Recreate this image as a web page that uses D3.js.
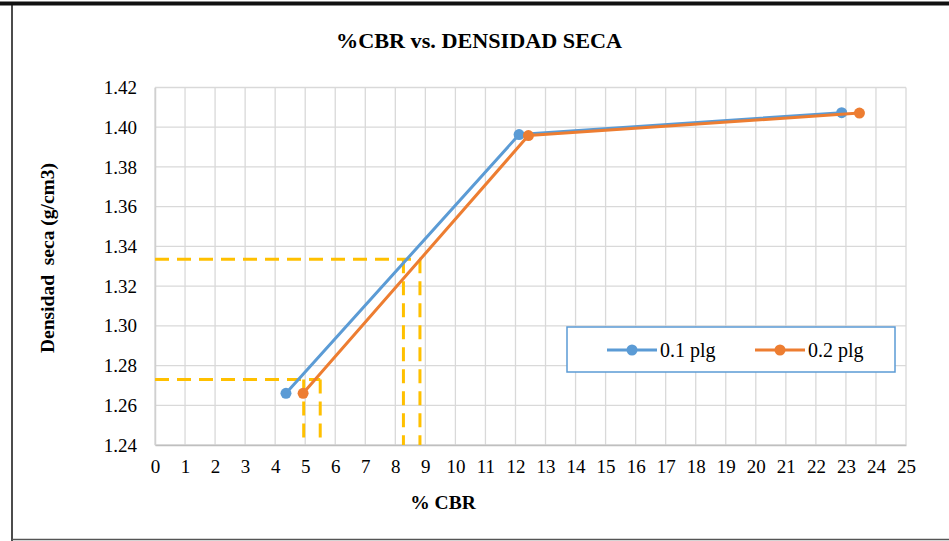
<!DOCTYPE html>
<html>
<head>
<meta charset="utf-8">
<script src="https://cdn.jsdelivr.net/npm/d3@7"></script>
<style>
  html, body { margin: 0; padding: 0; background: #fff; }
  svg { display: block; }
  text { font-family: "Liberation Serif", "Times New Roman", serif; fill: #000; }
</style>
</head>
<body>
<svg id="chart" width="949" height="541"></svg>
<script>
// ---- data ----
const seriesNames = ["0.1 plg", "0.2 plg"];
const cbr01 = [4.36, 12.12, 22.86];
const dens01 = [1.266, 1.3963, 1.4073];
const cbr02 = [4.93, 12.43, 23.45];
const dens02 = [1.266, 1.3958, 1.4071];
// guide lines (yellow dashed)
const guideDensity = [1.273, 1.3335];
const guideCbrLow = [4.95, 5.5];
const guideCbrHigh = [8.27, 8.82];
const xTicks = d3.range(0, 26, 1);
const yTicks = [1.24, 1.26, 1.28, 1.30, 1.32, 1.34, 1.36, 1.38, 1.40, 1.42];

const colors = ["#5b9bd5", "#ed7d31"];
const guideColor = "#ffc000";

const svg = d3.select("#chart");
const W = 949, H = 541;
const m = { left: 155, right: 906, top: 87.5, bottom: 445 };

const x = d3.scaleLinear().domain([0, 25]).range([m.left, m.right]);
const y = d3.scaleLinear().domain([1.24, 1.42]).range([m.bottom, m.top]);

// outer frame
svg.append("rect").attr("x", 0).attr("y", 0).attr("width", W).attr("height", H).attr("fill", "#fff");
svg.append("line").attr("x1", 0).attr("x2", W).attr("y1", 3.5).attr("y2", 3.5)
  .attr("stroke", "#111").attr("stroke-width", 4);
svg.append("line").attr("x1", 12).attr("x2", 12).attr("y1", 4).attr("y2", H)
  .attr("stroke", "#111").attr("stroke-width", 1.5);
svg.append("line").attr("x1", 12).attr("x2", W).attr("y1", 539.5).attr("y2", 539.5)
  .attr("stroke", "#555").attr("stroke-width", 1.5);

// gridlines
const grid = svg.append("g");
grid.selectAll("line.v").data(xTicks).enter().append("line")
  .attr("x1", d => x(d)).attr("x2", d => x(d))
  .attr("y1", m.top).attr("y2", m.bottom)
  .attr("stroke", "#d9d9d9").attr("stroke-width", 1.3);
grid.selectAll("line.h").data(yTicks).enter().append("line")
  .attr("x1", m.left).attr("x2", m.right)
  .attr("y1", d => y(d)).attr("y2", d => y(d))
  .attr("stroke", "#d9d9d9").attr("stroke-width", 1.3);

// axes (labels via d3 axes)
const xAxis = svg.append("g").attr("transform", `translate(0,${m.bottom})`)
  .call(d3.axisBottom(x).tickValues(xTicks).tickFormat(d3.format("d")).tickSize(0).tickPadding(15));
const yAxis = svg.append("g").attr("transform", `translate(${m.left},0)`)
  .call(d3.axisLeft(y).tickValues(yTicks).tickFormat(d3.format(".2f")).tickSize(0).tickPadding(18));
[xAxis, yAxis].forEach(a => {
  a.select(".domain").attr("stroke", "#bfbfbf").attr("stroke-width", 1.5);
  a.selectAll("text").attr("font-family", "Liberation Serif").attr("font-size", 19).attr("fill", "#000");
});
yAxis.select(".domain").attr("stroke", "#d0d0d0");

// yellow dashed guides
const gl = svg.append("g").attr("stroke", guideColor).attr("stroke-width", 3)
  .attr("stroke-dasharray", "14,8").attr("fill", "none");
gl.append("line").attr("x1", x(0)).attr("x2", x(guideCbrLow[1]))
  .attr("y1", y(guideDensity[0])).attr("y2", y(guideDensity[0]));
guideCbrLow.forEach(v => gl.append("line").attr("x1", x(v)).attr("x2", x(v))
  .attr("y1", y(guideDensity[0])).attr("y2", y(1.24)));
gl.append("line").attr("x1", x(0)).attr("x2", x(guideCbrHigh[1]))
  .attr("y1", y(guideDensity[1])).attr("y2", y(guideDensity[1]));
guideCbrHigh.forEach(v => gl.append("line").attr("x1", x(v)).attr("x2", x(v))
  .attr("y1", y(guideDensity[1])).attr("y2", y(1.24)));

// series
const series = [
  cbr01.map((c, i) => [c, dens01[i]]),
  cbr02.map((c, i) => [c, dens02[i]])
];
const line = d3.line().x(d => x(d[0])).y(d => y(d[1]));
series.forEach((s, i) => {
  svg.append("path").datum(s).attr("d", line).attr("fill", "none")
    .attr("stroke", colors[i]).attr("stroke-width", 3).attr("stroke-linejoin", "round");
  svg.selectAll(null).data(s).enter().append("circle")
    .attr("cx", d => x(d[0])).attr("cy", d => y(d[1])).attr("r", 5.5)
    .attr("fill", colors[i]);
});

// legend
const lg = svg.append("g");
lg.append("rect").attr("x", 567).attr("y", 327).attr("width", 328).attr("height", 45)
  .attr("fill", "#fff").attr("stroke", "#5b9bd5").attr("stroke-width", 1.5);
const legendItems = [
  { x0: 607, x1: 657, tx: 660 },
  { x0: 755, x1: 805, tx: 808 }
];
legendItems.forEach((it, i) => {
  lg.append("line").attr("x1", it.x0).attr("x2", it.x1).attr("y1", 350).attr("y2", 350)
    .attr("stroke", colors[i]).attr("stroke-width", 3);
  lg.append("circle").attr("cx", (it.x0 + it.x1) / 2).attr("cy", 350).attr("r", 5.5).attr("fill", colors[i]);
  lg.append("text").attr("x", it.tx).attr("y", 357).attr("font-size", 20).text(seriesNames[i]);
});

// titles
svg.append("text").attr("x", 479).attr("y", 48).attr("text-anchor", "middle")
  .attr("font-size", 22).attr("font-weight", "bold").attr("textLength", 286)
  .attr("lengthAdjust", "spacingAndGlyphs").text("%CBR vs. DENSIDAD SECA");
svg.append("text").attr("x", 443).attr("y", 509).attr("text-anchor", "middle")
  .attr("font-size", 19.5).attr("font-weight", "bold").text("% CBR");
svg.append("text").attr("transform", "translate(54,258) rotate(-90)").attr("text-anchor", "middle")
  .attr("font-size", 19.5).attr("font-weight", "bold").attr("xml:space", "preserve")
  .text("Densidad  seca (g/cm3)");
</script>
</body>
</html>
